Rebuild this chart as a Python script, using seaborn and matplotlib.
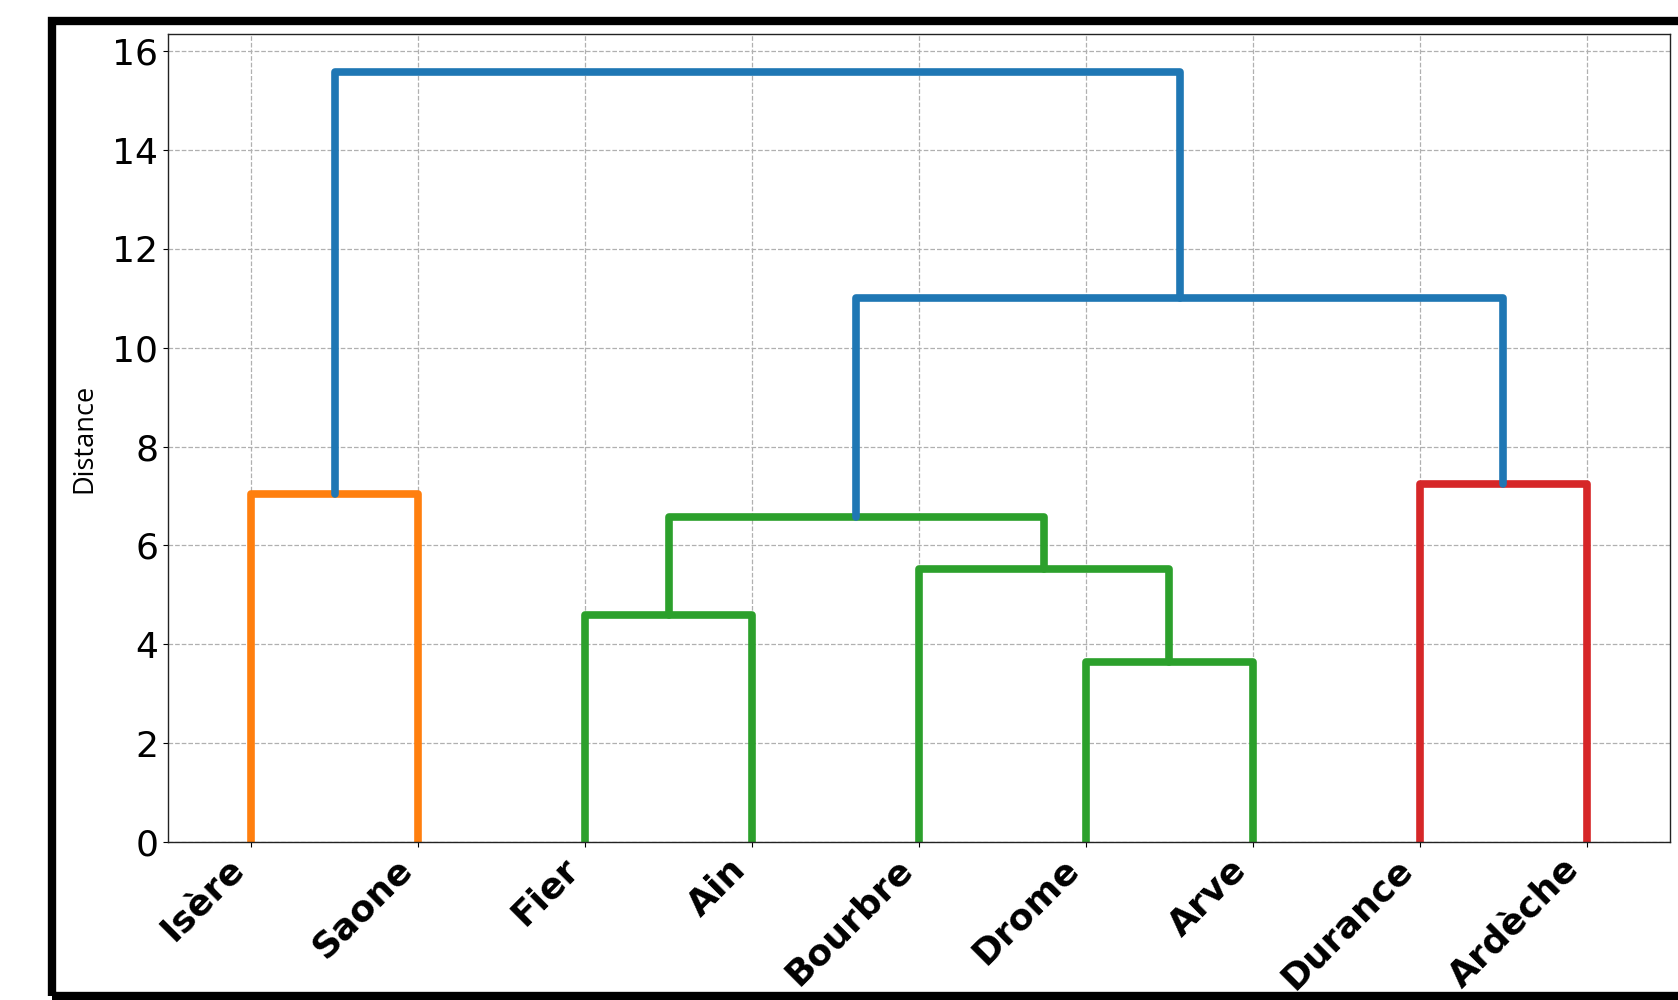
import numpy as np
import pandas as pd
import matplotlib
matplotlib.use("Agg")
import matplotlib.pyplot as plt
import matplotlib.patches as patches
import seaborn as sns

sns.set_style("ticks", rc={"text.color": "black", "axes.labelcolor": "black",
                           "xtick.color": "black", "ytick.color": "black"})

# leaves in dendrogram order
leaves = ["Isère", "Saone", "Fier", "Ain", "Bourbre", "Drome", "Arve", "Durance", "Ardèche"]

# linkage-like merges: ids < 9 are leaves, id 9+k is merge k
merge_left = [0, 2, 5, 4, 10, 7, 13, 9]
merge_right = [1, 3, 6, 11, 12, 8, 14, 15]
merge_height = [7.05, 4.60, 3.65, 5.53, 6.58, 7.25, 11.0, 15.57]
merge_color = ["orange", "green", "green", "green", "green", "red", "blue", "blue"]

palette = {"blue": "#1f77b4", "orange": "#ff7f0e", "green": "#2ca02c", "red": "#d62728"}

# node positions like scipy: leaves at 5, 15, 25, ...
n = len(leaves)
node_x = {i: 5 + 10 * i for i in range(n)}
node_y = {i: 0.0 for i in range(n)}
rows = []
for k, (l, r, h, c) in enumerate(zip(merge_left, merge_right, merge_height, merge_color)):
    xs = [node_x[l], node_x[l], node_x[r], node_x[r]]
    ys = [node_y[l], h, h, node_y[r]]
    for x, y in zip(xs, ys):
        rows.append({"x": x, "y": y, "link": k, "color": c})
    node_x[n + k] = (node_x[l] + node_x[r]) / 2
    node_y[n + k] = h
df = pd.DataFrame(rows)

fig = plt.figure(figsize=(16.78, 10), dpi=100)
ax = fig.add_axes([0.1001, 0.158, 0.8951, 0.808])

sns.lineplot(data=df, x="x", y="y", units="link", hue="color", palette=palette,
             estimator=None, sort=False, lw=5.5, legend=False, ax=ax)

ax.set_xlim(0, 10 * n)
ax.set_ylim(0, max(merge_height) * 1.05)
ax.set_xticks([5 + 10 * i for i in range(n)])
ax.set_xticklabels(leaves, rotation=45, ha="right", fontweight="bold", fontsize=26)
ax.set_yticks(np.arange(0, 17, 2))
ax.tick_params(axis="y", labelsize=26)
ax.set_xlabel("")
ax.set_ylabel("Distance", fontsize=19.5, family=["Open Sans", "DejaVu Sans"], labelpad=10)
ax.grid(True, linestyle="--", color="#b0b0b0", linewidth=0.9)
for s in ax.spines.values():
    s.set_color("#222222")
    s.set_linewidth(1.0)

# thick black frame around the figure (right edge falls outside the picture)
frame = patches.Rectangle((52 / 1678, 0.004), 0.99, 0.975, transform=fig.transFigure,
                          fill=False, edgecolor="black", linewidth=6, clip_on=False)
fig.patches.append(frame)

fig.savefig("out.png", dpi=100)
